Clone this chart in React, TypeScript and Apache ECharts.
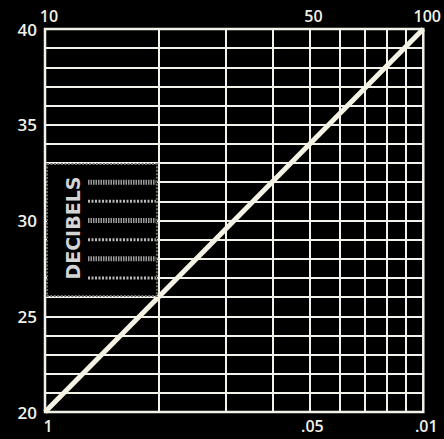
import React, { useEffect, useRef } from "react";
import * as echarts from "echarts";

// Log-scale frequency ratio axis (top) and its reciprocal labels (bottom)
const tickValues = [10, 50, 100];
const topLabels = ["10", "50", "100"];
const bottomLabels = ["1", ".05", ".01"];
const verticalGridValues = [20, 30, 40, 50, 60, 70, 80, 90];
// Decibel axis
const dbMin = 20;
const dbMax = 40;
// The straight line of the nomogram
const lineData: [number, number][] = [
  [10, 20],
  [100, 40],
];
// Decibels caption box (in data space) and its hatched lines
const captionBox = { x0: 10, x1: 20, yTop: 33, yBottom: 26 };
const hatchedDb = [32, 31, 30, 29, 28, 27];
const captionText = "DECIBELS";

function nearestLabel(v: number, labels: string[]) {
  let best = 0;
  for (let i = 1; i < tickValues.length; i++) {
    if (Math.abs(tickValues[i] - v) < Math.abs(tickValues[best] - v)) best = i;
  }
  return Math.abs(tickValues[best] - v) / tickValues[best] < 0.01 ? labels[best] : "";
}

export default function App() {
  const ref = useRef<HTMLDivElement>(null);
  useEffect(() => {
    document.body.style.margin = "0";
    document.body.style.background = "#000";
    const chart = echarts.init(ref.current!, null, { renderer: "svg" });
    const white = "#f2f1ea";
    const font = "'Open Sans', sans-serif";
    const labelBase = {
      color: white,
      fontSize: 16,
      fontWeight: 600,
      fontFamily: font,
    };
    chart.setOption({
      animation: false,
      backgroundColor: "#000",
      grid: {
        left: 45,
        right: 17,
        top: 29,
        bottom: 27,
        show: true,
        borderColor: white,
        borderWidth: 2.5,
      },
      xAxis: [
        {
          type: "log",
          logBase: 10,
          min: 10,
          max: 100,
          position: "bottom",
          axisLine: { show: false },
          axisTick: { show: false },
          splitLine: { show: false },
          axisLabel: {
            ...labelBase,
            customValues: tickValues,
            formatter: (v: number) => nearestLabel(v, bottomLabels),
            margin: 6,
            padding: [0, 0, 0, 6],
          },
        },
        {
          type: "log",
          logBase: 10,
          min: 10,
          max: 100,
          position: "top",
          axisLine: { show: false },
          axisTick: { show: false },
          splitLine: { show: false },
          axisLabel: {
            ...labelBase,
            customValues: tickValues,
            formatter: (v: number) => nearestLabel(v, topLabels),
            margin: 5,
            padding: [0, 0, 0, 8],
          },
        },
      ],
      yAxis: {
        type: "value",
        min: dbMin,
        max: dbMax,
        interval: 1,
        axisLine: { show: false },
        axisTick: { show: false },
        splitLine: { show: true, lineStyle: { color: white, width: 2 } },
        axisLabel: {
          ...labelBase,
          fontSize: 17,
          margin: 8,
          formatter: (v: number) => (Math.round(v) % 5 === 0 ? String(Math.round(v)) : ""),
        },
      },
      series: [
        {
          type: "line",
          xAxisIndex: 0,
          data: [],
          markLine: {
            silent: true,
            symbol: "none",
            label: { show: false },
            lineStyle: { color: white, width: 2, type: "solid" },
            data: verticalGridValues.map((v) => ({ xAxis: v })),
          },
          z: 1,
        },
        {
          type: "line",
          xAxisIndex: 0,
          data: lineData,
          showSymbol: false,
          lineStyle: { color: "#f4f2e2", width: 5 },
          z: 5,
        },
      ],
    });

    const p = (x: number, y: number) =>
      chart.convertToPixel({ xAxisIndex: 0, yAxisIndex: 0 }, [x, y]) as number[];
    const tl = p(captionBox.x0, captionBox.yTop);
    const br = p(captionBox.x1, captionBox.yBottom);
    const left = tl[0] + 2;
    const right = br[0] - 2;
    const hatchStart = left + 41;
    const graphics: any[] = [
      {
        type: "rect",
        shape: { x: left, y: tl[1] + 1, width: right - left, height: br[1] - tl[1] - 2 },
        style: { fill: "#000", stroke: "#6e6e6e", lineWidth: 2, lineDash: [2, 1.5] },
        z: 10,
      },
      ...hatchedDb.map((d, i) => {
        const y = p(captionBox.x0, d)[1];
        return {
          type: "line",
          shape: { x1: hatchStart, y1: y, x2: right - 1, y2: y },
          style: {
            stroke: i % 2 === 0 ? "#9a9a9a" : "#b8b8b8",
            lineWidth: i % 2 === 0 ? 5 : 3,
            lineDash: i % 2 === 0 ? [1.5, 1] : [2, 1.5],
          },
          z: 11,
        };
      }),
      {
        type: "text",
        x: left + 26,
        y: (tl[1] + br[1]) / 2 - 2,
        rotation: Math.PI / 2,
        style: {
          text: captionText,
          fill: "#d4d4d4",
          font: `bold 19px 'DejaVu Sans', sans-serif`,
          align: "center",
          verticalAlign: "middle",
        },
        z: 12,
      },
    ];
    chart.setOption({ graphic: graphics });
    return () => chart.dispose();
  }, []);
  return (
    <div
      ref={ref}
      style={{ position: "fixed", left: 0, top: 0, width: 444, height: 439, background: "#000" }}
    />
  );
}
